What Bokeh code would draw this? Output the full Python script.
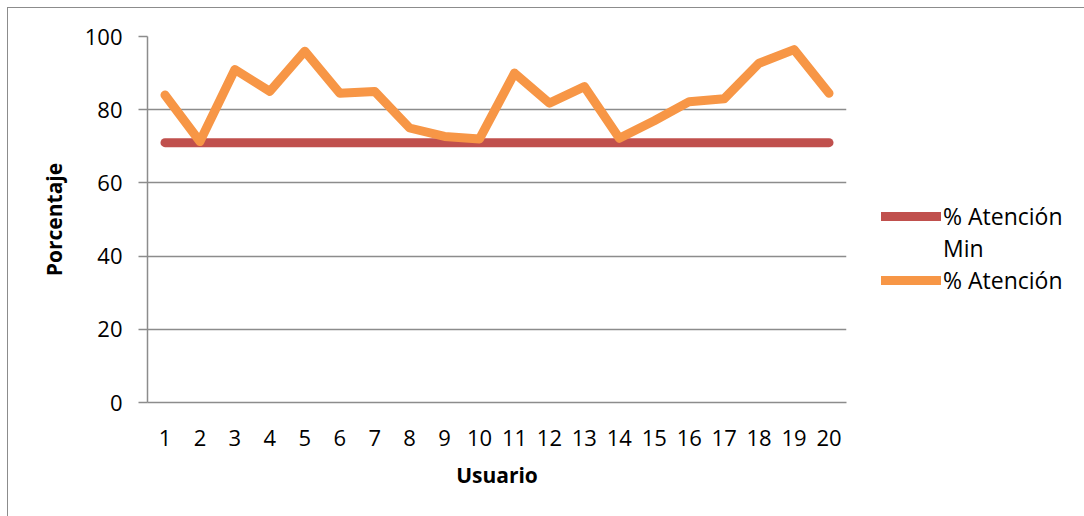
from bokeh.plotting import figure
from bokeh.models import Range1d, FixedTicker, Legend, LegendItem
from bokeh.embed import file_html
from bokeh.resources import INLINE

usuarios = list(range(1, 21))
atencion_min = [71] * 20
atencion = [84, 71.3, 91, 85, 96, 84.5, 85, 75, 72.7, 72, 90, 81.8, 86.3, 72.2, 77, 82.2, 83, 92.7, 96.4, 84.5]
y_ticks = [0, 20, 40, 60, 80, 100]

FONT = "Open Sans"
GRAY = "#8c8c8c"

p = figure(frame_width=699, frame_height=366, output_backend="svg", toolbar_location=None,
           x_range=Range1d(0.5, 20.5), y_range=Range1d(0, 100),
           min_border_left=139, min_border_right=0, min_border_top=28, min_border_bottom=115)
p.styles = {"border": "1px solid #8c8c8c", "margin-left": "7px", "margin-top": "7px"}
p.outline_line_color = None
p.background_fill_color = "white"

r1 = p.line(usuarios, atencion_min, line_color="#C0504D", line_width=9, line_cap="round", line_join="round")
r2 = p.line(usuarios, atencion, line_color="#F79646", line_width=9, line_cap="round", line_join="round")
r_wrap = p.line([], [], line_alpha=0)

p.xaxis.ticker = FixedTicker(ticks=usuarios)
p.yaxis.ticker = FixedTicker(ticks=y_ticks)
p.xgrid.grid_line_color = None
p.ygrid.grid_line_color = GRAY
p.ygrid.grid_line_width = 1.5

for ax in (p.xaxis, p.yaxis):
    ax.axis_line_color = GRAY
    ax.axis_line_width = 1.5
    ax.major_label_text_font = FONT
    ax.major_label_text_font_size = "22px"
    ax.major_label_text_color = "black"
    ax.minor_tick_line_color = None
    ax.axis_label_text_font = FONT
    ax.axis_label_text_font_style = "bold"
    ax.axis_label_text_font_size = "21px"
    ax.axis_label_text_color = "black"

p.xaxis.major_tick_line_color = None
p.xaxis.major_label_standoff = 21
p.xaxis.axis_label = "Usuario"
p.xaxis.axis_label_standoff = 12

p.yaxis.major_tick_line_color = GRAY
p.yaxis.major_tick_line_width = 1.5
p.yaxis.major_tick_in = 0
p.yaxis.major_tick_out = 9
p.yaxis.major_label_standoff = 16
p.yaxis.axis_label = "Porcentaje"
p.yaxis.axis_label_standoff = 14

legend = Legend(items=[LegendItem(label="% Atención", renderers=[r1]),
                       LegendItem(label="Min", renderers=[r_wrap]),
                       LegendItem(label="% Atención", renderers=[r2])],
                location=(35, 106), orientation="vertical")
legend.glyph_width = 60
legend.glyph_height = 30
legend.label_height = 30
legend.label_standoff = 2
legend.label_text_font = FONT
legend.label_text_font_size = "23px"
legend.label_text_color = "black"
legend.border_line_color = None
legend.background_fill_alpha = 0
legend.padding = 0
legend.margin = 0
legend.spacing = 0
p.add_layout(legend, "right")

open("out.html", "w").write(file_html(p, INLINE))
